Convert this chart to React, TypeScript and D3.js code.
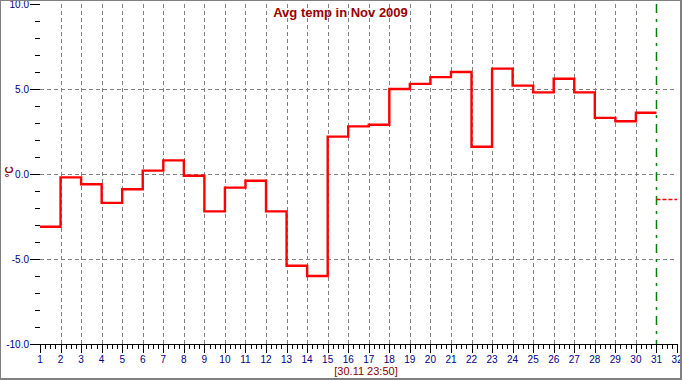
import React from "react";
import * as d3 from "d3";

const days: number[] = Array.from({ length: 30 }, (_, i) => i + 1);
const temps: number[] = [
  -3.1, -0.2, -0.6, -1.7, -0.9, 0.2, 0.8, -0.1, -2.2, -0.8,
  -0.4, -2.2, -5.4, -6.0, 2.2, 2.8, 2.9, 5.0, 5.3, 5.7,
  6.0, 1.6, 6.2, 5.2, 4.8, 5.6, 4.8, 3.3, 3.1, 3.6,
];
const currentDay = 31;
const currentValue = -1.5;
const yTickLabels: number[] = [10, 5, 0, -5, -10];
const xTickLabels: number[] = Array.from({ length: 32 }, (_, i) => i + 1);
const title = "Avg temp in Nov 2009";
const subtitle = "[30.11 23:50]";
const yTitle = "°C";

const W = 682;
const H = 380;

export default function App() {
  const x = d3.scaleLinear().domain([1, 32]).range([40, 677]);
  const y = d3.scaleLinear().domain([-10, 10]).range([344, 4]);

  const pts: [number, number][] = days.map((d, i) => [d, temps[i]]);
  pts.push([days[days.length - 1] + 1, temps[temps.length - 1]]);
  const line = d3
    .line<[number, number]>()
    .x((d) => x(d[0]))
    .y((d) => y(d[1]))
    .curve(d3.curveStepAfter);

  const minorY = d3.range(-10, 10.001, 1);
  const minorX = d3.range(1, 32.001, 0.25);
  const gridDays = d3.range(2, 31);
  const narrow = "'Liberation Sans Narrow', 'Arial Narrow', 'Liberation Sans', Arial, sans-serif";
  const tickColor = "#000080";

  return (
    <svg
      width={W}
      height={H}
      style={{ position: "absolute", left: 0, top: 0, background: "#fff" }}
      fontFamily="'Liberation Sans', Arial, sans-serif"
    >
      <rect x={0} y={0} width={W} height={H} fill="#ffffff" />
      {gridDays.map((d) => (
        <line
          key={"vg" + d}
          x1={Math.round(x(d)) + 0.5}
          x2={Math.round(x(d)) + 0.5}
          y1={y(10)}
          y2={y(-10)}
          stroke="#808080"
          strokeWidth={1}
          strokeDasharray="4,3"
        />
      ))}
      {[5, 0, -5].map((v) => (
        <line
          key={"hg" + v}
          x1={x(1)}
          x2={x(32)}
          y1={Math.round(y(v)) + 0.5}
          y2={Math.round(y(v)) + 0.5}
          stroke="#808080"
          strokeWidth={1}
          strokeDasharray="4,3"
        />
      ))}
      <line
        x1={Math.round(x(currentDay)) + 0.5}
        x2={Math.round(x(currentDay)) + 0.5}
        y1={y(10)}
        y2={y(-10)}
        stroke="#008000"
        strokeWidth={1.5}
        strokeDasharray="9,6,3,6"
      />
      <line
        x1={x(currentDay)}
        x2={x(32)}
        y1={y(currentValue)}
        y2={y(currentValue)}
        stroke="#ff0000"
        strokeWidth={1.5}
        strokeDasharray="4,2"
      />
      <path d={line(pts) || ""} fill="none" stroke="#ff0000" strokeWidth={2.4} />
      {minorY.map((v) => {
        const major = Math.abs(v % 5) < 1e-9;
        const yy = Math.round(y(v)) + 0.5;
        return (
          <line
            key={"yt" + v}
            x1={major ? 30 : 35}
            x2={40}
            y1={yy}
            y2={yy}
            stroke="#000"
            strokeWidth={1}
          />
        );
      })}
      {yTickLabels.map((v) => (
        <text
          key={"yl" + v}
          x={29}
          y={y(v) + 3.5}
          textAnchor="end"
          fontSize={10}
          fontFamily={narrow}
          fill={tickColor}
        >
          {v.toFixed(1)}
        </text>
      ))}
      <line x1={39} x2={678} y1={344.5} y2={344.5} stroke="#000" strokeWidth={1} />
      {minorX.map((v) => {
        const major = Math.abs(v - Math.round(v)) < 1e-9;
        const xx = Math.round(x(v)) + 0.5;
        return (
          <line
            key={"xt" + v}
            x1={xx}
            x2={xx}
            y1={344}
            y2={major ? 353 : 349}
            stroke="#000"
            strokeWidth={1}
          />
        );
      })}
      {xTickLabels.map((d) => (
        <text
          key={"xl" + d}
          x={x(d)}
          y={362.5}
          textAnchor="middle"
          fontSize={10}
          fontFamily={narrow}
          fill={tickColor}
        >
          {d}
        </text>
      ))}
      <text x={340.5} y={17} textAnchor="middle" fontSize={13} fontWeight="bold" fill="#990000">
        {title}
      </text>
      <text x={366} y={374.5} textAnchor="middle" fontSize={11} fill="#8b0000">
        {subtitle}
      </text>
      <text
        transform="translate(13,172) rotate(-90)"
        textAnchor="middle"
        fontSize={10}
        fontWeight="bold"
        fill="#8b0000"
      >
        {yTitle}
      </text>
      <line x1={0.5} x2={0.5} y1={0} y2={H} stroke="#808080" strokeWidth={1} />
      <line x1={0} x2={W} y1={0.5} y2={0.5} stroke="#808080" strokeWidth={1} />
      <line x1={681} x2={681} y1={0} y2={H} stroke="#808080" strokeWidth={2} />
      <line x1={0} x2={W} y1={379} y2={379} stroke="#808080" strokeWidth={2} />
    </svg>
  );
}
